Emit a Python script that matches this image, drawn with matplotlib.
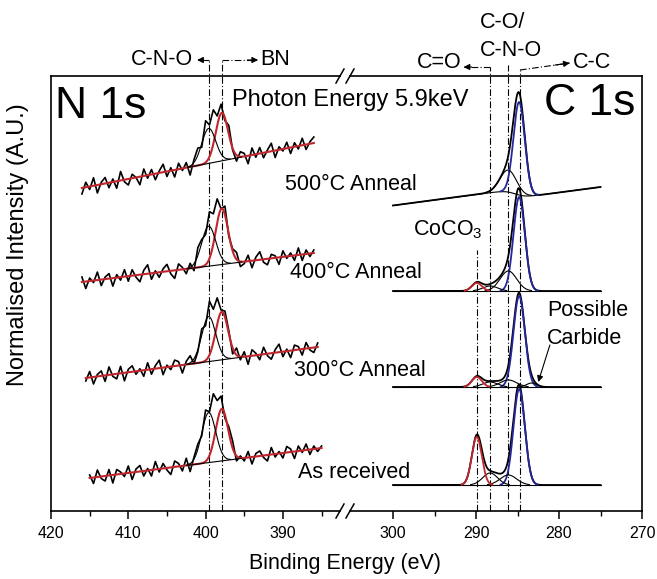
import numpy as np
import matplotlib.pyplot as plt
from matplotlib.lines import Line2D

plt.rcParams['font.family'] = ['Liberation Sans', 'DejaVu Sans']
plt.rcParams['mathtext.default'] = 'regular'

RED = '#c0272d'
BLUE = '#23289a'

# ---------------- N 1s data (intensity in arbitrary units) ----------------
n_names = ['500°C Anneal', '400°C Anneal', '300°C Anneal', 'As received']
n_start = [416.0, 416.0, 415.5, 415.0]
n_end = [386.0, 386.0, 385.5, 385.0]
n_bg_start = [323, 229, 133, 33]
n_bg_end = [368, 258, 164, 63]
n_pos = [399.6, 397.9]          # C-N-O, BN
n_width = [0.9, 0.8]
n_cno = [35, 40, 45, 50]
n_bn = [48, 56, 48, 52]
n_noise = [
    [-6, 5, -3, 8, -8, 2, 6, -5, 3, -7, 9, -2, -6, 4, 0, -8, 7, -3, 5, -6,
     2, 8, -5, 3, -7, 6, -2, 5, -9, 3, 7, -4, 10, -3, 6, -7, 2, -5, 8, -2,
     -6, 5, 3, -8, 7, -3, 6, -5, 2, 8, -7, 3, -2, 6, -6, 4, -3, 7, -5, 2, 6],
    [5, -7, 3, -2, 8, -6, 2, 5, -8, 3, -3, 7, -5, 6, -2, -7, 4, 9, -6, 2,
     -5, 3, 7, -3, -8, 6, 2, -5, 4, -7, 8, 3, -6, 7, -2, 5, -8, 6, -3, 2,
     7, -5, -2, 6, -7, 3, 8, -3, -6, 4, 2, -7, 6, -2, 3, -5, 7, -6, 4, -3, 3],
    [-3, 6, -7, 2, 5, -6, 8, -2, -5, 7, -8, 3, 6, -3, 2, -6, 7, -5, 3, 8,
     -7, 2, -3, 6, 4, -8, 3, 7, -5, -2, 6, -6, 9, -3, 5, -7, 3, 2, -6, 7,
     -3, 5, -8, 6, 2, -5, 7, -2, -6, 3, 8, -5, 2, -7, 5, 3, -6, 6, -2, -5, 4],
    [3, -6, 7, -2, -5, 6, -8, 5, 2, -3, 7, -7, 3, 6, -5, 2, -6, 8, -3, 5,
     -2, -7, 6, 3, -5, 7, -8, 2, 5, -3, 6, -6, 8, -2, 3, -7, 5, 7, -5, 2,
     -3, 6, -7, 3, 5, -2, -6, 7, -3, 2, -5, 6, 3, -7, 5, -2, 6, -5, 3, -3, 2],
]

# ---------------- C 1s data ----------------
c_start = 300.0
c_end = 275.0
c_bg_end = [324, 220, 124, 26]      # background at 275 eV
c_bg_slope = [-1.1, 0, 0, 0]        # per eV towards higher binding energy
c_bg_step = [9, 0, 0, 0]
c_pos = [284.8, 286.1, 288.3, 289.9, 283.3]   # C-C, C-O/C-N-O, C=O, CoCO3, carbide
c_width = [0.68, 1.0, 0.9, 0.6, 0.6]
c_cc = [93, 94, 91, 96]
c_co = [22, 20, 7, 10]
c_ceo = [0, 5, 5, 12]
c_coco3 = [0, 8, 10, 48]
c_carb = [0, 0, 4, 0]

# reference lines
n_lines = [399.6, 397.9]
c_lines = [288.3, 286.1, 284.7]
coco3_line = 289.9


def gauss(e, pos, h, w):
    return h * np.exp(-(e - pos) ** 2 / (2 * w ** 2))


fig = plt.figure(figsize=(6.57, 5.79), dpi=100)
W, H = 657.0, 579.0
axL = fig.add_axes([51 / W, 68 / H, (340 - 51) / W, 435 / H])
axR = fig.add_axes([350 / W, 68 / H, (642 - 350) / W, 435 / H])

axL.set_xlim(420, 420 - (340 - 51) / 7.73)
axR.set_xlim(270 + (642 - 350) / 8.3, 270)
for ax in (axL, axR):
    ax.set_ylim(0, 435)
    ax.patch.set_alpha(0)
    ax.set_yticks([])
    for s in ax.spines.values():
        s.set_linewidth(1.2)
    ax.tick_params(axis='x', which='major', direction='out', length=6, width=1.1,
                   labelsize=11.5, pad=5, top=False)
    ax.tick_params(axis='x', which='minor', direction='out', length=3.5, width=1.0, top=False)
axL.spines['right'].set_visible(False)
axR.spines['left'].set_visible(False)
axL.set_xticks([420, 410, 400, 390])
axL.set_xticks([415, 405, 395, 385], minor=True)
axR.set_xticks([300, 290, 280, 270])
axR.set_xticks([295, 285, 275], minor=True)

# ---- N 1s spectra ----
for i in range(4):
    # raw (noisy) points
    e_raw = np.linspace(n_start[i], n_end[i], len(n_noise[i]))
    bg_raw = n_bg_start[i] + (n_bg_end[i] - n_bg_start[i]) * (n_start[i] - e_raw) / (n_start[i] - n_end[i])
    raw = bg_raw + gauss(e_raw, n_pos[0], n_cno[i], n_width[0]) + gauss(e_raw, n_pos[1], n_bn[i], n_width[1]) \
        + np.array(n_noise[i])
    axL.plot(e_raw, raw, color='k', lw=1.2, zorder=2)

    e = np.linspace(n_start[i], n_end[i], 600)
    bg = n_bg_start[i] + (n_bg_end[i] - n_bg_start[i]) * (n_start[i] - e) / (n_start[i] - n_end[i])
    cno = gauss(e, n_pos[0], n_cno[i], n_width[0])
    bn = gauss(e, n_pos[1], n_bn[i], n_width[1])
    axL.plot(e, bg + bn, color=RED, lw=1.5, zorder=3)
    axL.plot(e, np.where(cno > 0.3, bg + cno, np.nan), color='k', lw=0.8, zorder=3)
    axL.plot(e, np.where(cno + bn > 0.3, bg, np.nan), color='k', lw=0.8, zorder=3)

# ---- C 1s spectra ----
e = np.linspace(c_start, c_end, 800)
for i in range(4):
    bg = c_bg_end[i] + c_bg_slope[i] * (e - c_end) + c_bg_step[i] / (1 + np.exp(-(e - 285.3) / 0.6))
    comps = [gauss(e, c_pos[0], c_cc[i], c_width[0]),
             gauss(e, c_pos[1], c_co[i], c_width[1]),
             gauss(e, c_pos[2], c_ceo[i], c_width[2]),
             gauss(e, c_pos[3], c_coco3[i], c_width[3]),
             gauss(e, c_pos[4], c_carb[i], c_width[4])]
    total = bg + sum(comps)
    axR.plot(e, total, color='k', lw=1.3, zorder=2)
    axR.plot(e, bg, color='k', lw=0.8, zorder=3)
    colors = [BLUE, 'k', 'k', RED, 'k']
    widths = [1.3, 0.8, 0.8, 1.3, 0.8]
    for comp, col, lw in zip(comps, colors, widths):
        if comp.max() > 0:
            axR.plot(e, np.where(comp > 0.4, bg + comp, np.nan), color=col, lw=lw, zorder=4)

# ---- reference lines (dash-dot) ----
dd = (0, (6, 2, 1, 2))
for x in n_lines:
    axL.plot([x, x], [0, 451], color='k', lw=0.8, ls=dd, clip_on=False, zorder=1)
axR.plot([c_lines[0], c_lines[0]], [0, 444], color='k', lw=0.8, ls=dd, clip_on=False, zorder=1)
axR.plot([c_lines[1], c_lines[1]], [0, 446], color='k', lw=0.8, ls=dd, clip_on=False, zorder=1)
axR.plot([c_lines[2], c_lines[2]], [0, 441], color='k', lw=0.8, ls=dd, clip_on=False, zorder=1)
axR.plot([coco3_line, coco3_line], [0, 261], color='k', lw=0.8, ls=dd, clip_on=False, zorder=1)


def arrow(ax, x0, y0, x1, y1):
    ax.plot([x0, x1], [y0, y1], color='k', lw=0.8, ls=dd, clip_on=False)
    ax.annotate('', xy=(x1, y1), xytext=(x1 + (x0 - x1) * 0.3, y1 + (y0 - y1) * 0.3),
                arrowprops=dict(arrowstyle='-|>', color='k', lw=0.8, mutation_scale=9,
                                shrinkA=0, shrinkB=0), annotation_clip=False)


arrow(axL, 399.6, 451, 401.1, 451)
arrow(axL, 397.9, 451, 393.2, 451)
arrow(axR, 288.3, 444, 291.5, 444)
arrow(axR, 284.7, 441, 278.7, 448)

fs = 15.5
axL.text(401.6, 451.5, 'C-N-O', ha='right', va='center', fontsize=fs)
axL.text(392.9, 451.5, 'BN', ha='left', va='center', fontsize=fs)
axR.text(291.8, 449, 'C=O', ha='right', va='center', fontsize=fs)
axR.text(289.5, 488, 'C-O/', ha='left', va='center', fontsize=fs, clip_on=False)
axR.text(289.5, 460, 'C-N-O', ha='left', va='center', fontsize=fs, clip_on=False)
axR.text(278.3, 448, 'C-C', ha='left', va='center', fontsize=fs)

# ---- panel texts ----
axL.text(419.5, 393, 'N 1s', ha='left', va='baseline', fontsize=32)
axR.text(270.85, 396, 'C 1s', ha='right', va='baseline', fontsize=32)
fig.text(232 / W, (579 - 106) / H, 'Photon Energy 5.9keV', ha='left', va='baseline', fontsize=17)

label_x = [297.1, 296.5, 296.1, 297.95]
label_y = [327, 238, 141, 39]
for name, lx, ly in zip(n_names, label_x, label_y):
    axR.text(lx, ly, name, ha='right', va='center', fontsize=fs, clip_on=False)

axR.text(297.6, 281, 'CoCO$_3$', ha='left', va='center', fontsize=fs)
axR.text(281.45, 201, 'Possible', ha='left', va='center', fontsize=fs)
axR.text(281.45, 173, 'Carbide', ha='left', va='center', fontsize=fs)
axR.annotate('', xy=(282.5, 129), xytext=(281.1, 166),
             arrowprops=dict(arrowstyle='-|>', color='k', lw=0.8, mutation_scale=9,
                             shrinkA=0, shrinkB=0))

# ---- axis break marks ----
for yb in (511, 76):
    for xb in (340, 350):
        fig.add_artist(Line2D([(xb - 4) / W, (xb + 4) / W],
                              [(579 - yb - 7) / H, (579 - yb + 7) / H],
                              color='k', lw=1.1))

fig.text(345 / W, (579 - 563) / H, 'Binding Energy (eV)', ha='center', va='center', fontsize=15.5)
fig.text(18 / W, (579 - 245) / H, 'Normalised Intensity (A.U.)', ha='center', va='center',
         rotation=90, fontsize=17)

fig.savefig('out.png', dpi=100)
